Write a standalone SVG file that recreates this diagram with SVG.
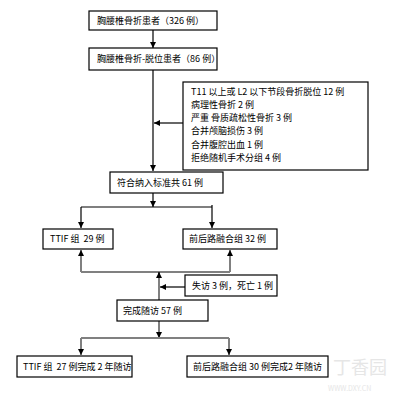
<svg xmlns="http://www.w3.org/2000/svg" width="401" height="401" viewBox="0 0 401 401">
<style>
.box{fill:#fff;stroke:#000;stroke-width:1.2}
.t{font-family:"Noto Sans CJK SC","Liberation Sans",sans-serif;font-size:9px;fill:#000;white-space:pre}
.k{stroke:#000;stroke-width:1.2;fill:none}
.g{stroke:#808080;stroke-width:2;fill:none}
.wm{font-family:"Noto Sans CJK SC","Liberation Sans",sans-serif;fill:#e6e6e6}
</style>
<defs>
<marker id="a" viewBox="0 0 8 8" refX="8" refY="4" markerWidth="6" markerHeight="6" markerUnits="userSpaceOnUse" orient="auto">
<path d="M0,0 L8,4 L0,8 z" fill="#000"/>
</marker>
</defs>
<rect width="401" height="401" fill="#fff"/>
<g id="connectors">
<path class="k" d="M153,30 V48" marker-end="url(#a)"/>
<path class="k" d="M153,70 V171" marker-end="url(#a)"/>
<path class="k" d="M183,123 H154" marker-end="url(#a)"/>
<path class="k" d="M153,193 V207" marker-end="url(#a)"/>
<path class="k" d="M81,207 H212 M212,205 V207"/>
<path class="k" d="M81,207 V228" marker-end="url(#a)"/>
<path class="k" d="M212,207 V228" marker-end="url(#a)"/>
<path class="g" d="M159,300 V272 M81,272 H230"/>
<path class="g" d="M81,272 V250" marker-end="url(#a)"/>
<path class="g" d="M230,272 V250" marker-end="url(#a)"/>
<path class="k" d="M159,276 V272" marker-end="url(#a)"/>
<path class="k" d="M185,287 H160" marker-end="url(#a)"/>
<path class="g" d="M159,321 V338" marker-end="url(#a)"/>
<path class="g" d="M81,338 H229"/>
<path class="g" d="M81,338 V355" marker-end="url(#a)"/>
<path class="g" d="M229,338 V355" marker-end="url(#a)"/>
</g>
<g id="n1"><rect class="box" x="89" y="11" width="128" height="19"/><text class="t" x="97" y="24">胸腰椎骨折患者（326 例）</text></g>
<g id="n2"><rect class="box" x="89" y="48" width="128" height="22"/><text class="t" x="97" y="62">胸腰椎骨折-脱位患者（86 例）</text></g>
<g id="n3"><rect class="box" x="183" y="82" width="185" height="88"/>
<text class="t" x="191" y="95">T11 以上或 L2 以下节段骨折脱位 12 例</text>
<text class="t" x="191" y="108">病理性骨折 2 例</text>
<text class="t" x="191" y="121">严重 骨质疏松性骨折 3 例</text>
<text class="t" x="191" y="134">合并颅脑损伤 3 例</text>
<text class="t" x="191" y="148">合并腹腔出血 1 例</text>
<text class="t" x="191" y="161">拒绝随机手术分组 4 例</text>
</g>
<g id="n4"><rect class="box" x="110" y="172" width="113" height="21"/><text class="t" x="117" y="186">符合纳入标准共 61 例</text></g>
<g id="n5"><rect class="box" x="43" y="229" width="70" height="20"/><text class="t" x="50" y="242">TTIF 组  29 例</text></g>
<g id="n6"><rect class="box" x="183" y="229" width="94" height="20"/><text class="t" x="189" y="242">前后路融合组 32 例</text></g>
<g id="n7"><rect class="box" x="185" y="275" width="92" height="21"/><text class="t" x="192" y="289">失访 3 例，死亡 1 例</text></g>
<g id="n8"><rect class="box" x="117" y="300" width="91" height="21"/><text class="t" x="123" y="314">完成随访 57 例</text></g>
<g id="n9"><rect class="box" x="17" y="356" width="115" height="21"/><text class="t" x="23" y="370">TTIF 组  27 例完成 2 年随访</text></g>
<g id="n10"><rect class="box" x="187" y="356" width="141" height="21"/><text class="t" x="193" y="370">前后路融合组 30 例完成2 年随访</text></g>
<g id="watermark"><text class="wm" x="333" y="374" font-size="18">丁香园</text><text class="wm" x="328" y="391" font-size="7">WWW.DXY.CN</text></g>
</svg>
